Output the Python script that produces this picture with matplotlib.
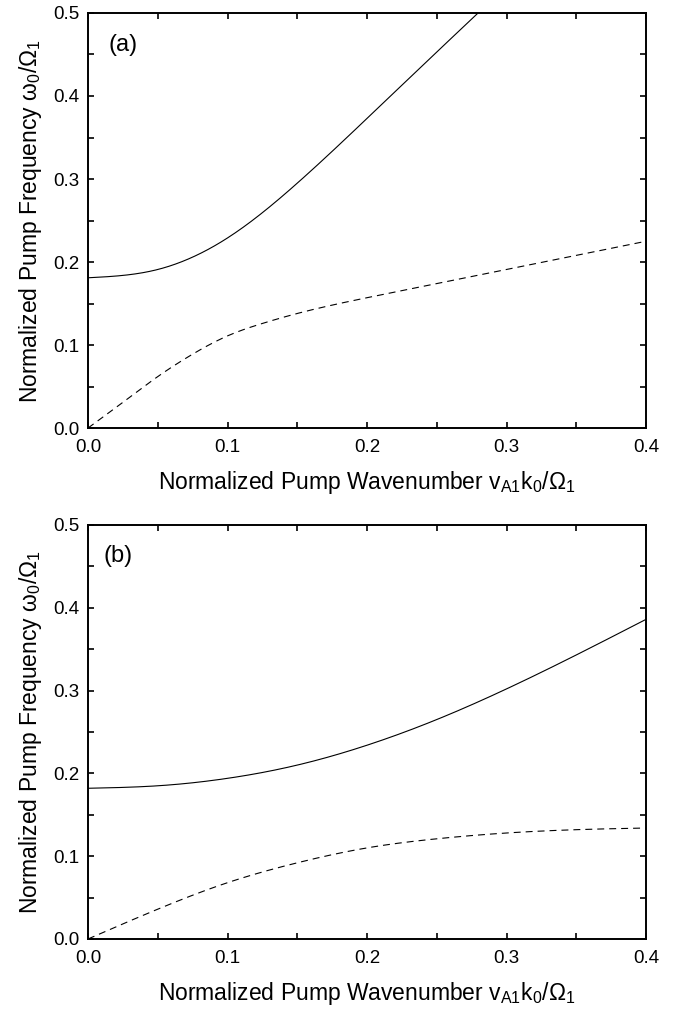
import matplotlib
matplotlib.use("Agg")
import matplotlib.pyplot as plt
import numpy as np
from matplotlib.ticker import MultipleLocator

plt.rcParams['font.family'] = ['Liberation Sans', 'DejaVu Sans']
plt.rcParams['mathtext.fontset'] = 'custom'
plt.rcParams['mathtext.rm'] = 'Liberation Sans'
plt.rcParams['mathtext.it'] = 'Liberation Sans'
plt.rcParams['mathtext.default'] = 'rm'
plt.rcParams['lines.scale_dashes'] = False

# panel (a)
k_a_solid = [0.0, 0.05, 0.1, 0.15, 0.2, 0.25, 0.2796]
w_a_solid = [0.181, 0.191, 0.229, 0.295, 0.373, 0.453, 0.5]
k_a_dash = [0.0, 0.025, 0.05, 0.075, 0.1, 0.125, 0.15, 0.2, 0.25, 0.3, 0.35, 0.4]
w_a_dash = [0.0, 0.031, 0.062, 0.089, 0.111, 0.126, 0.138, 0.157, 0.174, 0.191, 0.208, 0.225]

# panel (b)
k_b = [0.0, 0.05, 0.1, 0.15, 0.2, 0.25, 0.3, 0.35, 0.4]
w_b_solid = [0.182, 0.185, 0.194, 0.210, 0.234, 0.265, 0.302, 0.343, 0.386]
w_b_dash = [0.0, 0.036, 0.068, 0.092, 0.110, 0.121, 0.128, 0.132, 0.134]


def spline(x, y, n=300):
    # natural cubic spline through the read points
    x = np.asarray(x, float)
    y = np.asarray(y, float)
    m = len(x)
    h = np.diff(x)
    A = np.zeros((m, m))
    b = np.zeros(m)
    A[0, 0] = A[-1, -1] = 1
    for i in range(1, m - 1):
        A[i, i - 1] = h[i - 1]
        A[i, i] = 2 * (h[i - 1] + h[i])
        A[i, i + 1] = h[i]
        b[i] = 3 * ((y[i + 1] - y[i]) / h[i] - (y[i] - y[i - 1]) / h[i - 1])
    c = np.linalg.solve(A, b)
    xs = np.linspace(x[0], x[-1], n)
    idx = np.clip(np.searchsorted(x, xs) - 1, 0, m - 2)
    dx = xs - x[idx]
    bb = (y[idx + 1] - y[idx]) / h[idx] - h[idx] * (2 * c[idx] + c[idx + 1]) / 3
    d = (c[idx + 1] - c[idx]) / (3 * h[idx])
    return xs, y[idx] + bb * dx + c[idx] * dx ** 2 + d * dx ** 3


fig = plt.figure(figsize=(6.85, 10.15), dpi=100)
ax1 = fig.add_axes([0.1285, 0.5783, 0.8146, 0.4089])
ax2 = fig.add_axes([0.1285, 0.0749, 0.8146, 0.4079])

panels = [
    (ax1, k_a_solid, w_a_solid, k_a_dash, w_a_dash, '(a)', 0.036, 0.923),
    (ax2, k_b, w_b_solid, k_b, w_b_dash, '(b)', 0.027, 0.925),
]

for ax, ks, ws, kd, wd, tag, tx, ty in panels:
    xs, ys = spline(ks, ws)
    ax.plot(xs, ys, color='black', lw=0.8)
    xd, yd = spline(kd, wd)
    ax.plot(xd, yd, color='black', lw=0.8, linestyle=(0, (5, 3.6)))
    ax.set_xlim(0, 0.4)
    ax.set_ylim(0, 0.5)
    ax.xaxis.set_major_locator(MultipleLocator(0.1))
    ax.xaxis.set_minor_locator(MultipleLocator(0.05))
    ax.yaxis.set_major_locator(MultipleLocator(0.1))
    ax.yaxis.set_minor_locator(MultipleLocator(0.05))
    ax.xaxis.set_major_formatter(plt.FuncFormatter(lambda v, p: f'{v:.1f}'))
    ax.yaxis.set_major_formatter(plt.FuncFormatter(lambda v, p: f'{v:.1f}'))
    ax.tick_params(which='both', direction='in', top=True, right=True,
                   length=4.5, width=1.2, labelsize=13.5)
    ax.tick_params(axis='x', pad=8)
    ax.tick_params(axis='y', pad=6)
    for s in ax.spines.values():
        s.set_linewidth(1.4)
    ax.set_xlabel(r'Normalized Pump Wavenumber v$_{\rm A1}$k$_0$/$\Omega_1$',
                  fontsize=16.5, labelpad=9)
    ax.set_ylabel(r'Normalized Pump Frequency $\omega_0/\Omega_1$',
                  fontsize=16.5, labelpad=7)
    ax.text(tx, ty, tag, transform=ax.transAxes, fontsize=17, ha='left', va='center')

fig.savefig('out.png', dpi=100)
